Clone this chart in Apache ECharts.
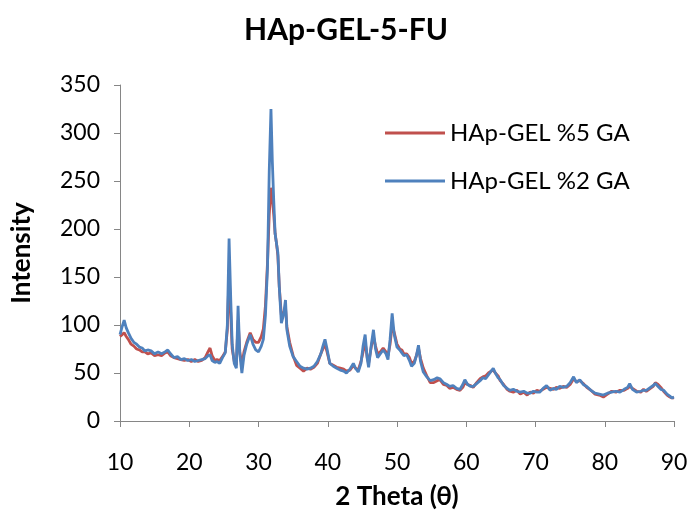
<!DOCTYPE html>
<html>
<head>
<meta charset="utf-8">
<script src="https://cdn.jsdelivr.net/npm/echarts@6/dist/echarts.min.js"></script>
<style>html,body{margin:0;padding:0;background:#fff}#c{width:692px;height:516px}</style>
</head>
<body>
<div id="c"></div>
<script>
var title = "HAp-GEL-5-FU";
var seriesNames = ["HAp-GEL %5 GA", "HAp-GEL %2 GA"];
var xTicks = [10, 20, 30, 40, 50, 60, 70, 80, 90];
var yTicks = [0, 50, 100, 150, 200, 250, 300, 350];

var theta = [10.0,10.3,10.6,10.9,11.2,11.6,12.0,12.4,12.8,13.2,13.6,14.0,14.5,15.0,15.5,16.0,16.5,16.9,17.3,17.8,
18.3,18.8,19.3,19.8,20.3,20.8,21.3,21.8,22.3,22.7,23.0,23.3,23.7,24.0,24.4,24.8,25.2,25.5,25.75,26.0,
26.2,26.5,26.8,27.05,27.3,27.6,27.9,28.3,28.8,29.2,29.6,30.0,30.4,30.7,31.0,31.3,31.55,31.8,32.0,32.2,
32.4,32.6,32.8,33.0,33.3,33.6,33.9,34.1,34.5,35.0,35.5,36.0,36.5,37.0,37.5,38.0,38.5,39.0,39.3,39.6,
39.9,40.3,40.8,41.3,41.8,42.3,42.7,43.2,43.7,44.0,44.4,44.8,45.1,45.4,45.7,45.9,46.3,46.6,46.9,47.2,
47.6,48.0,48.4,48.7,49.0,49.3,49.6,50.0,50.4,50.7,51.0,51.4,51.8,52.1,52.5,52.8,53.1,53.4,53.8,54.3,
54.8,55.3,55.8,56.2,56.7,57.2,57.6,58.1,58.6,59.1,59.5,59.8,60.2,60.6,61.0,61.5,62.0,62.4,62.8,63.2,
63.6,63.9,64.2,64.6,64.9,65.4,65.9,66.3,66.8,67.3,67.8,68.3,68.8,69.2,69.7,70.2,70.6,71.1,71.6,72.1,
72.6,73.0,73.5,74.0,74.5,75.0,75.5,75.9,76.4,76.9,77.4,78.0,78.6,79.2,79.8,80.4,81.0,81.6,82.2,82.8,
83.3,83.6,84.0,84.6,85.2,85.6,86.0,86.6,87.0,87.3,87.7,88.1,88.5,89.0,89.4,89.7,90.0];

var ga5 = [88,90,92,88,85,80,78,75,74,72,72,70,71,68,69,68,71,72,68,66,
65,64,63,64,62,64,62,63,66,72,76,68,63,64,63,67,72,95,155,110,
75,62,58,105,72,58,72,82,92,85,82,82,88,96,120,165,215,243,232,215,
195,185,172,140,110,112,118,98,82,68,58,55,52,55,54,56,60,70,75,80,
72,60,58,56,55,54,52,53,58,55,53,62,72,82,66,60,78,88,78,70,
72,76,72,68,80,100,92,80,75,74,70,70,66,60,62,68,76,65,55,47,
40,40,42,43,38,37,34,35,33,32,35,40,38,37,35,40,44,46,47,50,
52,53,50,47,42,38,33,31,30,32,28,30,27,30,29,32,31,33,35,34,
33,35,34,36,35,38,44,41,42,39,35,32,28,27,25,28,31,30,32,32,
34,36,34,31,30,33,31,34,36,40,38,35,31,27,25,24,24];

var ga2 = [90,98,105,97,92,86,82,80,77,76,73,74,73,70,72,70,72,74,70,66,
67,64,65,63,64,62,63,64,65,68,69,63,61,62,60,66,71,100,190,125,
80,60,55,120,70,50,68,80,90,80,74,72,78,85,110,160,260,325,270,230,
195,185,175,140,102,110,126,95,78,67,62,57,55,54,55,57,62,70,78,85,
75,60,57,55,53,52,50,54,60,55,51,60,78,90,65,56,80,95,75,66,
70,74,70,64,85,112,90,77,74,71,68,69,63,57,60,68,79,62,51,46,
42,43,45,44,40,38,36,37,34,33,38,43,38,36,36,39,42,45,44,48,
52,55,50,45,43,37,34,32,33,31,30,31,29,29,31,30,30,34,37,32,
34,33,36,35,36,40,46,40,43,38,36,32,29,28,27,29,30,31,30,33,
35,39,33,30,31,32,32,35,37,39,36,33,32,28,26,24,25];

function pairs(ys){ return theta.map(function(t,i){ return [t, ys[i]]; }); }

var FONT = "Lato";
var chart = echarts.init(document.getElementById('c'));
chart.setOption({
  animation: false,
  backgroundColor: '#ffffff',
  title: {
    text: title, left: 'center', top: 10,
    textStyle: {fontFamily: FONT, fontWeight: 'bold', fontSize: 30, color: '#000'}
  },
  legend: {
    orient: 'vertical', left: 380, top: 116, itemGap: 24,
    itemWidth: 60, itemHeight: 3, icon: 'rect',
    textStyle: {fontFamily: FONT, fontSize: 24, color: '#000'},
    data: seriesNames
  },
  grid: {left: 120, right: 18, top: 85, bottom: 95},
  xAxis: {
    type: 'value', min: 10, max: 90, interval: 10,
    name: '2 Theta (θ)', nameLocation: 'middle', nameGap: 63,
    nameTextStyle: {fontFamily: FONT, fontWeight: 'bold', fontSize: 26, color: '#000'},
    axisLine: {show: true, lineStyle: {color: '#868686', width: 1}},
    axisTick: {show: true, length: 6, lineStyle: {color: '#868686'}},
    axisLabel: {fontFamily: FONT, fontSize: 23, color: '#000', margin: 30,
      formatter: function(v){ return xTicks.indexOf(v) >= 0 ? String(v) : ''; }},
    splitLine: {show: false}
  },
  yAxis: {
    type: 'value', min: 0, max: 350, interval: 50,
    name: 'Intensity', nameLocation: 'middle', nameGap: 85, nameRotate: 90,
    nameTextStyle: {fontFamily: FONT, fontWeight: 'bold', fontSize: 26, color: '#000'},
    axisLine: {show: true, lineStyle: {color: '#868686', width: 1}},
    axisTick: {show: true, length: 6, lineStyle: {color: '#868686'}},
    axisLabel: {fontFamily: FONT, fontSize: 23, color: '#000', margin: 20,
      formatter: function(v){ return yTicks.indexOf(v) >= 0 ? String(v) : ''; }},
    splitLine: {show: false}
  },
  series: [
    {name: seriesNames[0], type: 'line', data: pairs(ga5), showSymbol: false,
     lineStyle: {color: '#C0504D', width: 2.8}, itemStyle: {color: '#C0504D'}, z: 2},
    {name: seriesNames[1], type: 'line', data: pairs(ga2), showSymbol: false,
     lineStyle: {color: '#4F81BD', width: 2.8}, itemStyle: {color: '#4F81BD'}, z: 3}
  ]
});
</script>
</body>
</html>
